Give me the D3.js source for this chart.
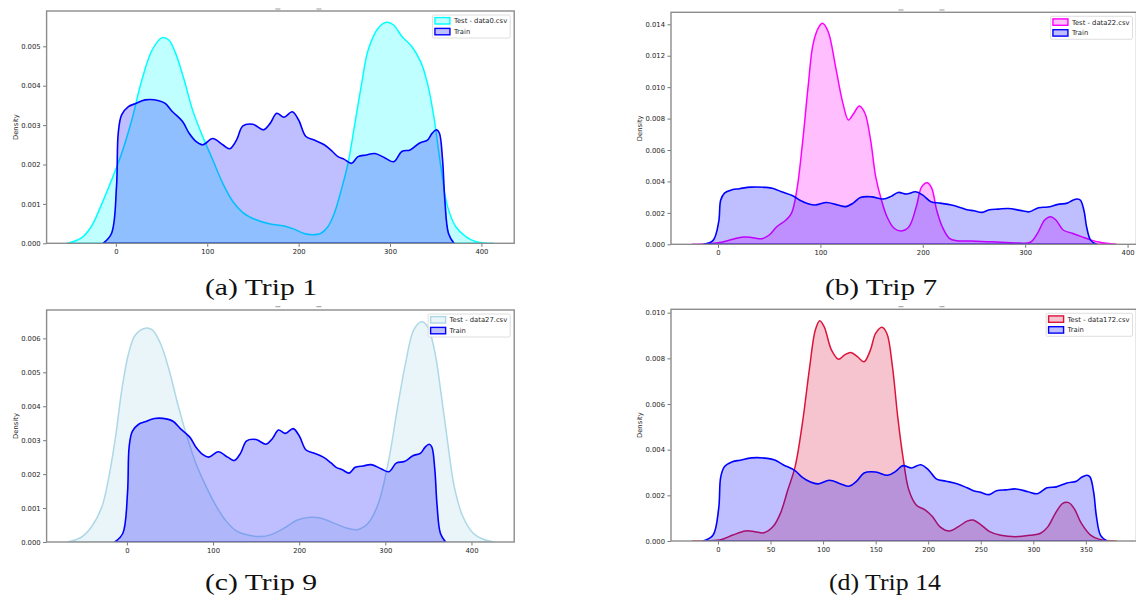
<!DOCTYPE html>
<html>
<head>
<meta charset="utf-8">
<script src="https://cdn.jsdelivr.net/npm/d3@7"></script>
<style>
  html, body { margin: 0; padding: 0; background: #fff; }
  svg { display: block; }
  .tick text { font-family: "DejaVu Sans", sans-serif; font-size: 6.8px; fill: #262626; }
</style>
</head>
<body>
<svg id="fig" width="1136" height="604"></svg>
<script>
// Kernel density of the training set (shared by every panel): [value, density]
const trainDensity = [
  [-14, 0], [-4.8, 0.00025], [0.7, 0.00144], [2.6, 0.0028], [6.3, 0.00326], [13.7, 0.00347],
  [21, 0.00354], [32, 0.00364], [47, 0.00362], [54, 0.00355], [62, 0.00334], [73, 0.00309],
  [80, 0.0028], [88, 0.00258], [95, 0.0025], [106, 0.00266], [117, 0.0025], [124.6, 0.0024],
  [132, 0.00262], [139, 0.00298], [150, 0.00302], [161.5, 0.00288], [169, 0.00305], [176, 0.0033],
  [184, 0.0032], [193, 0.00334], [200, 0.00313], [208, 0.00271], [217, 0.00262], [228, 0.0025],
  [237, 0.00233], [243, 0.0022], [250, 0.00213], [258, 0.00203], [265, 0.0022], [274, 0.00224],
  [283.5, 0.00228], [295, 0.00216], [304, 0.00207], [313, 0.00233], [322, 0.00237], [332, 0.00254],
  [341, 0.00262], [346, 0.00279], [351, 0.00288], [354, 0.0028], [357.5, 0.00212], [360, 0.0011],
  [364, 0.00025], [370, 0]
];

// Test trip densities
const testTrip1 = [
  [-53, 0], [-38, 0.00013], [-27, 0.00042], [-16, 0.00097], [-4.8, 0.0016], [6.3, 0.00228],
  [17.4, 0.00313], [28.5, 0.00415], [39.6, 0.0049], [50.6, 0.00522], [58, 0.00516], [65.4, 0.00482],
  [74.7, 0.00415], [84, 0.00338], [95, 0.00271], [106, 0.00212], [117, 0.00152], [128, 0.00106],
  [139, 0.00078], [154, 0.00059], [169, 0.00049], [184, 0.00044], [195, 0.00036], [206, 0.00025],
  [215, 0.00022], [224, 0.00025], [232, 0.00042], [239, 0.00076], [246.6, 0.00135], [254, 0.00203],
  [261, 0.00296], [269, 0.00406], [276, 0.0049], [287, 0.00546], [296.5, 0.00561], [304, 0.00554],
  [313, 0.00525], [324, 0.00499], [333.5, 0.00461], [341, 0.00406], [348, 0.00321], [355.6, 0.00195],
  [363, 0.00093], [372, 0.00042], [383, 0.00017], [394, 0.00004], [413, 0]
];
const testTrip7 = [
  [-25, 0], [-10.8, 0.00004], [3.6, 0.00013], [14.3, 0.00032], [25, 0.00047], [34, 0.00042],
  [43, 0.00036], [50, 0.00059], [57.4, 0.00112], [66.4, 0.00155], [71.7, 0.00197], [77, 0.00346],
  [82.5, 0.00643], [88, 0.01003], [93, 0.01279], [98.7, 0.01385], [102, 0.01406], [107.6, 0.01353],
  [114.8, 0.01131], [122, 0.00897], [127.4, 0.00791], [132.7, 0.00834], [138, 0.0088], [143.5, 0.00834],
  [149, 0.00664], [154, 0.00431], [159.6, 0.00282], [165, 0.00176], [172, 0.00102], [179, 0.00085],
  [186.5, 0.00112], [193.7, 0.0024], [199, 0.00367], [204.5, 0.00392], [208.8, 0.00356], [213.5, 0.00218],
  [219, 0.00112], [226, 0.00038], [233, 0.00023], [247.5, 0.00021], [262, 0.00017], [276, 0.00013],
  [294, 0.00008], [305, 0.00013], [312, 0.0007], [319, 0.00155], [324.7, 0.00176], [330, 0.00155],
  [337, 0.00091], [346, 0.0007], [355, 0.00049], [364, 0.00028], [373, 0.00013], [389, 0]
];
const testTrip9 = [
  [-68.6, 0], [-53, 0.00014], [-41, 0.00045], [-29, 0.00104], [-21.6, 0.00183], [-13.7, 0.003],
  [-5.9, 0.00448], [2, 0.00556], [9.8, 0.0061], [21.6, 0.0063], [29.4, 0.00625], [39, 0.00585],
  [49, 0.00507], [58.8, 0.00409], [68.6, 0.0032], [80, 0.00232], [92, 0.00163], [104, 0.00104],
  [115.7, 0.0006], [127.5, 0.00032], [143, 0.00019], [155, 0.00016], [166.7, 0.00021], [182, 0.0004],
  [198, 0.00065], [213.7, 0.00073], [225.5, 0.0007], [241, 0.00055], [257, 0.0004], [268.6, 0.00037],
  [280, 0.00055], [292, 0.00114], [304, 0.00242], [313.7, 0.00389], [323.5, 0.00527], [333, 0.00625],
  [342, 0.00649], [349, 0.00635], [357, 0.00566], [364.7, 0.00438], [372.5, 0.00291], [380, 0.00163],
  [390, 0.00075], [402, 0.00026], [413.7, 0.00008], [425.5, 0]
];
const testTrip14 = [
  [-24, 0], [-10.5, 0.00001], [3.5, 0.00007], [14, 0.00026], [26, 0.00044], [35, 0.00041],
  [43.7, 0.00036], [52.4, 0.00063], [59.4, 0.00121], [66.4, 0.00223], [73.4, 0.00326], [80.3, 0.00515],
  [87.3, 0.00764], [92.6, 0.00924], [96.8, 0.00965], [101, 0.00939], [108, 0.00836], [114.6, 0.00796],
  [120.5, 0.00815], [126.4, 0.00826], [132.7, 0.00807], [139, 0.00785], [145, 0.00836], [150, 0.00909],
  [156, 0.00936], [160.7, 0.00909], [166, 0.00764], [171, 0.00545], [176.4, 0.00355], [181.6, 0.00223],
  [188.6, 0.00158], [197, 0.00136], [204, 0.00107], [211, 0.00063], [220, 0.00044], [228.8, 0.00063],
  [237.5, 0.00088], [242.8, 0.00092], [249.7, 0.00073], [258.5, 0.00041], [269, 0.00025], [283, 0.00019],
  [297, 0.00025], [307, 0.00034], [314, 0.00063], [321, 0.00121], [328, 0.00165], [333.6, 0.00168],
  [338.8, 0.00143], [345.8, 0.00077], [354.5, 0.00026], [363, 0.00007], [379, 0]
];

// Legend labels and captions
const testLabels = ["Test - data0.csv", "Test - data22.csv", "Test - data27.csv", "Test - data172.csv"];
const trainLabel = "Train";
const captions = ["(a) Trip 1", "(b) Trip 7", "(c) Trip 9", "(d) Trip 14"];
const yLabel = "Density";

// Tick values
const xTicksA = [0, 100, 200, 300, 400];
const xTicksB = [0, 100, 200, 300, 400];
const xTicksC = [0, 100, 200, 300, 400];
const xTicksD = [0, 50, 100, 150, 200, 250, 300, 350];
const yTicksA = [0, 0.001, 0.002, 0.003, 0.004, 0.005];
const yTicksB = [0, 0.002, 0.004, 0.006, 0.008, 0.010, 0.012, 0.014];
const yTicksC = [0, 0.001, 0.002, 0.003, 0.004, 0.005, 0.006];
const yTicksD = [0, 0.002, 0.004, 0.006, 0.008, 0.010];

// Panel layout (pixel frame of each axes and its data limits)
const panels = [
  { test: testTrip1, color: "#00ffff", label: testLabels[0], caption: captions[0],
    left: 46.6, right: 514.2, top: 11, bottom: 243.3, xdom: [-75.8, 435.9], ymax: 0.005896,
    xt: xTicksA, yt: yTicksA, capX: 261, capY: 295, dashY: 9 },
  { test: testTrip7, color: "#ff00ff", label: testLabels[1], caption: captions[1],
    left: 671, right: 1136.5, top: 12.3, bottom: 244.3, xdom: [-45.9, 408.7], ymax: 0.014763,
    xt: xTicksB, yt: yTicksB, capX: 881, capY: 295, dashY: 10 },
  { test: testTrip9, color: "#add8e6", label: testLabels[2], caption: captions[2],
    left: 46.6, right: 514.2, top: 310, bottom: 542, xdom: [-93.2, 449.6], ymax: 0.006836,
    xt: xTicksC, yt: yTicksC, capX: 261, capY: 590, dashY: 306.7 },
  { test: testTrip14, color: "#dc143c", label: testLabels[3], caption: captions[3],
    left: 671, right: 1136.5, top: 309.3, bottom: 541, xdom: [-44.7, 398.2], ymax: 0.010147,
    xt: xTicksD, yt: yTicksD, capX: 885, capY: 590, dashY: 306.7 }
];

const svg = d3.select("#fig");
const fmt = d3.format(".3f");

panels.forEach((p, i) => {
  const x = d3.scaleLinear().domain(p.xdom).range([p.left, p.right]);
  const y = d3.scaleLinear().domain([0, p.ymax]).range([p.bottom, p.top]);
  const g = svg.append("g");

  const clipId = "clip" + i;
  svg.append("clipPath").attr("id", clipId)
    .append("rect").attr("x", p.left).attr("y", p.top)
    .attr("width", p.right - p.left).attr("height", p.bottom - p.top);

  const area = d3.area()
    .x(d => x(d[0])).y0(y(0)).y1(d => y(d[1]))
    .curve(d3.curveCatmullRom.alpha(0.5));

  const plot = g.append("g").attr("clip-path", `url(#${clipId})`);
  // Test trip first, training set drawn over it
  plot.append("path").datum(p.test).attr("d", area)
    .attr("fill", p.color).attr("fill-opacity", 0.25)
    .attr("stroke", p.color).attr("stroke-width", 1.5).attr("stroke-linejoin", "round");
  plot.append("path").datum(trainDensity).attr("d", area)
    .attr("fill", "#0000ff").attr("fill-opacity", 0.25)
    .attr("stroke", "#0000ff").attr("stroke-width", 1.6).attr("stroke-linejoin", "round");

  // Axes
  const xAxis = g.append("g").attr("transform", `translate(0,${p.bottom})`)
    .call(d3.axisBottom(x).tickValues(p.xt).tickFormat(d3.format("d")).tickSize(3.5).tickPadding(2.5));
  const yAxis = g.append("g").attr("transform", `translate(${p.left},0)`)
    .call(d3.axisLeft(y).tickValues(p.yt).tickFormat(fmt).tickSize(3.5).tickPadding(2.5));
  [xAxis, yAxis].forEach(a => {
    a.select(".domain").remove();
    a.selectAll(".tick line").attr("stroke", "#555").attr("stroke-width", 0.8);
  });

  // Frame
  g.append("rect").attr("x", p.left).attr("y", p.top)
    .attr("width", p.right - p.left).attr("height", p.bottom - p.top)
    .attr("fill", "none").attr("stroke", "#8c8c8c").attr("stroke-width", 1.4);

  // Y label
  g.append("text")
    .attr("transform", `translate(${p.left - 29},${(p.top + p.bottom) / 2}) rotate(-90)`)
    .attr("text-anchor", "middle")
    .style("font-family", "DejaVu Sans, sans-serif").style("font-size", "6.8px").style("fill", "#262626")
    .text(yLabel);

  // Remnant title marks above the frame
  const cx = (p.left + Math.min(p.right, 1136)) / 2;
  [cx - 5, cx + 36].forEach(mx => {
    g.append("line").attr("x1", mx).attr("x2", mx + 5).attr("y1", p.dashY).attr("y2", p.dashY)
      .attr("stroke", "#999").attr("stroke-width", 1);
  });

  // Legend (upper right)
  const leg = g.append("g");
  const items = [{ t: p.label, c: p.color }, { t: trainLabel, c: "#0000ff" }];
  const texts = items.map((it, k) => leg.append("text")
    .attr("x", 0).attr("y", 0)
    .style("font-family", "DejaVu Sans, sans-serif").style("font-size", "6.8px").style("fill", "#262626")
    .text(it.t));
  const tw = d3.max(texts, t => t.node().getComputedTextLength());
  const boxW = 2.5 + 15 + 4 + tw + 3;
  const boxH = 23;
  const bx = p.right - 4 - boxW;
  const by = p.top + 4;
  leg.insert("rect", ":first-child")
    .attr("x", bx).attr("y", by).attr("width", boxW).attr("height", boxH).attr("rx", 1.5)
    .attr("fill", "#fff").attr("fill-opacity", 0.85).attr("stroke", "#d6d6d6").attr("stroke-width", 0.8);
  items.forEach((it, k) => {
    const rowY = by + 5.8 + k * 10.8;
    leg.append("rect").attr("x", bx + 2.5).attr("y", rowY - 3.2).attr("width", 15).attr("height", 6.4)
      .attr("fill", it.c).attr("fill-opacity", 0.25).attr("stroke", it.c).attr("stroke-width", 1.4);
    texts[k].attr("x", bx + 2.5 + 15 + 4).attr("y", rowY + 2.4);
  });

  // Caption beneath the panel
  svg.append("text")
    .attr("x", p.capX).attr("y", p.capY)
    .attr("text-anchor", "middle")
    .attr("textLength", 112).attr("lengthAdjust", "spacingAndGlyphs")
    .style("font-family", "Liberation Serif, serif").style("font-size", "23px").style("fill", "#111")
    .text(p.caption);
});
</script>
</body>
</html>
